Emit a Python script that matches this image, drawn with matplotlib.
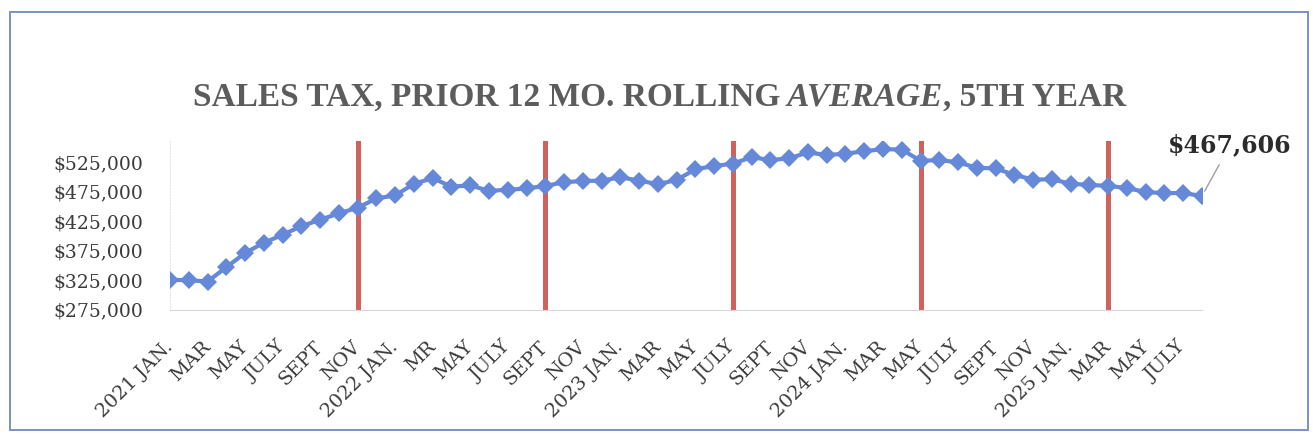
import numpy as np
import matplotlib
matplotlib.use("Agg")
import matplotlib.pyplot as plt
from matplotlib.patches import Rectangle
from matplotlib.ticker import FuncFormatter

# monthly rolling average, 2021 JAN. .. 2025 AUG
values = [325400, 324700, 322500, 346700, 370900, 388300, 401700, 416500,
          427200, 438200, 447700, 463500, 468600, 488300, 497900, 483500,
          485700, 476400, 478200, 480400, 484700, 491000, 493200, 493700,
          499300, 493900, 487600, 494900, 513000, 518600, 522500, 533600,
          528500, 531700, 541500, 537300, 539300, 543700, 547100, 546500,
          527300, 528700, 524700, 515600, 514400, 503500, 495600, 495900,
          488600, 486200, 485000, 481000, 474500, 472300, 472800, 467606]

tick_labels = ['2021 JAN.', 'MAR', 'MAY', 'JULY', 'SEPT', 'NOV',
               '2022 JAN.', 'MR', 'MAY', 'JULY', 'SEPT', 'NOV',
               '2023 JAN.', 'MAR', 'MAY', 'JULY', 'SEPT', 'NOV',
               '2024 JAN.', 'MAR', 'MAY', 'JULY', 'SEPT', 'NOV',
               '2025 JAN.', 'MAR', 'MAY', 'JULY']

# months where the red marker lines sit (every 10 months)
marker_months = [10, 20, 30, 40, 50]

y_ticks = [275000, 325000, 375000, 425000, 475000, 525000]

blue = '#6688d8'
red = '#cf625c'
serif = ['DejaVu Serif']
W, H = 1313, 443

fig = plt.figure(figsize=(W / 100, H / 100), dpi=100)
ax = fig.add_axes([170 / W, 1 - 309.5 / H, 1032 / W, 168.5 / H])

x = np.arange(len(values))

for m in marker_months:
    ax.axvline(m, color=red, lw=3.6, zorder=1)

ax.plot(x, values, color=blue, lw=3, marker='D', markersize=9.5,
        markeredgewidth=0, zorder=3)

ax.set_xlim(0, len(values) - 1)
ax.set_ylim(275000, 561000)

ax.set_yticks(y_ticks)
ax.yaxis.set_major_formatter(FuncFormatter(lambda v, p: '${:,.0f}'.format(v)))
ax.set_xticks(x[::2])
ax.set_xticklabels(tick_labels, rotation=45, ha='right', va='center',
                   rotation_mode='anchor')

ax.tick_params(axis='both', length=0, labelcolor='#3a3a3a')
ax.tick_params(axis='y', pad=19.5)
ax.tick_params(axis='x', pad=25)
for lab in ax.get_xticklabels():
    lab.set_family(serif)
    lab.set_fontsize(14)
for lab in ax.get_yticklabels():
    lab.set_family(serif)
    lab.set_fontsize(13.5)

for s in ['top', 'right']:
    ax.spines[s].set_visible(False)
ax.spines['left'].set_color('#e6e6e6')
ax.spines['left'].set_linestyle(':')
ax.spines['bottom'].set_color('#d8d8d8')

# value call-out for the latest month
ax.annotate('${:,.0f}'.format(values[-1]), xy=(x[-1], values[-1]),
            xytext=(1230, H - 145), textcoords='figure pixels',
            ha='center', va='center', fontsize=17, fontweight='bold',
            family=serif, color='#2b2b2b',
            arrowprops=dict(arrowstyle='-', color='#a0a0a0', lw=1,
                            shrinkA=4, shrinkB=4),
            annotation_clip=False)

# title, with the one italic word
tkw = dict(fontsize=24, fontweight='bold', color='#5c5c5c',
           family=['Liberation Serif'])
t1 = fig.text(193 / W, 1 - 113 / H, 'SALES TAX, PRIOR 12 MO. ROLLING',
              va='bottom', **tkw)
t2 = ax.annotate(' AVERAGE', xy=(1, 0), xycoords=t1, va='bottom',
                 style='italic', **tkw)
t3 = ax.annotate(', 5TH YEAR', xy=(1, 0), xycoords=t2, va='bottom', **tkw)

# chart frame
fig.patches.append(Rectangle((10 / W, 13 / H), 1298 / W, 418 / H,
                             transform=fig.transFigure, fill=False,
                             edgecolor='#7d90c6', lw=1.4))

fig.savefig('out.png', dpi=100)
